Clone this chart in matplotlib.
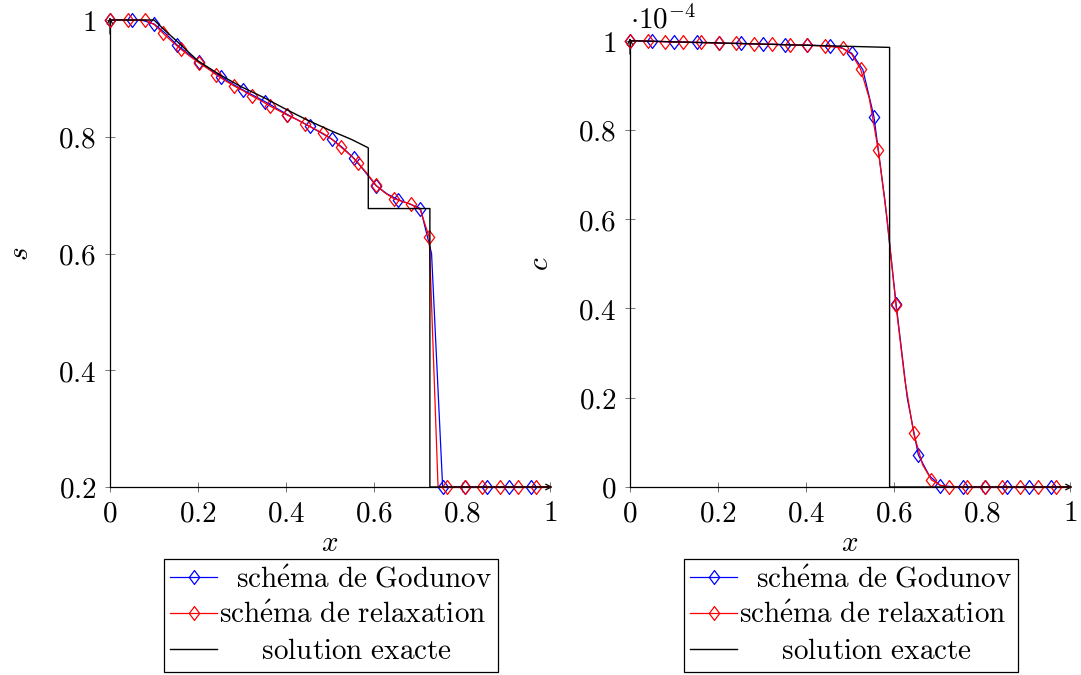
import numpy as np
import matplotlib
matplotlib.use("Agg")
import matplotlib.pyplot as plt
from matplotlib.path import Path
from matplotlib.ticker import FuncFormatter, FixedLocator

plt.rcParams['mathtext.fontset'] = 'cm'
plt.rcParams['font.family'] = ['DejaVu Serif']

# ---------------- data ----------------
# Godunov scheme: line points every half marker spacing (markers every 2nd point)
god_step = 0.0252
god_x = np.append(np.arange(40) * god_step, 1.0)
god_s = [1.000, 1.000, 1.000, 0.999, 0.993, 0.977, 0.958, 0.943, 0.928, 0.915,
         0.903, 0.891, 0.880, 0.870, 0.860, 0.849, 0.838, 0.828, 0.818, 0.807,
         0.796, 0.781, 0.763, 0.740, 0.716, 0.702, 0.692, 0.685, 0.677, 0.600,
         0.200, 0.200, 0.200, 0.200, 0.200, 0.200, 0.200, 0.200, 0.200, 0.200,
         0.200]
god_c = [1.000, 0.999, 0.999, 0.998, 0.997, 0.997, 0.996, 0.996, 0.995, 0.994,
         0.994, 0.993, 0.992, 0.992, 0.991, 0.990, 0.990, 0.989, 0.988, 0.985,
         0.972, 0.935, 0.830, 0.640, 0.410, 0.200, 0.072, 0.025, 0.003, 0.001,
         0.000, 0.000, 0.000, 0.000, 0.000, 0.000, 0.000, 0.000, 0.000, 0.000,
         0.000]
god_marks = list(range(0, 40, 2))

# relaxation scheme
rel_step = 0.02015
rel_x = np.append(np.arange(50) * rel_step, 1.0)
rel_s = [1.000, 1.000, 1.000, 1.000, 1.000, 0.992, 0.977, 0.963, 0.950, 0.938,
         0.927, 0.917, 0.906, 0.896, 0.887, 0.879, 0.870, 0.862, 0.853, 0.845,
         0.837, 0.830, 0.822, 0.814, 0.806, 0.796, 0.783, 0.770, 0.755, 0.737,
         0.717, 0.704, 0.694, 0.689, 0.684, 0.675, 0.628, 0.200, 0.200, 0.200,
         0.200, 0.200, 0.200, 0.200, 0.200, 0.200, 0.200, 0.200, 0.200, 0.200,
         0.200]
rel_c = [1.000, 1.000, 0.999, 0.998, 0.998, 0.997, 0.997, 0.996, 0.996, 0.995,
         0.995, 0.994, 0.994, 0.993, 0.993, 0.992, 0.992, 0.991, 0.991, 0.990,
         0.990, 0.989, 0.988, 0.986, 0.983, 0.970, 0.937, 0.870, 0.755, 0.600,
         0.407, 0.240, 0.120, 0.050, 0.016, 0.004, 0.000, 0.000, 0.000, 0.000,
         0.000, 0.000, 0.000, 0.000, 0.000, 0.000, 0.000, 0.000, 0.000, 0.000,
         0.000]
rel_marks = list(range(0, 50, 2))

# exact solution
ex_s_x = [0.0, 0.1, 0.125, 0.15, 0.2, 0.25, 0.3, 0.35, 0.4, 0.45, 0.5, 0.55,
          0.587, 0.587, 0.727, 0.727, 1.0]
ex_s = [1.0, 1.0, 0.982, 0.965, 0.930, 0.906, 0.885, 0.867, 0.847, 0.828, 0.811,
        0.795, 0.781, 0.677, 0.677, 0.2, 0.2]
ex_c_x = [0.0, 0.59, 0.59, 1.0]
ex_c = [1.0, 0.985, 0.0, 0.0]

labels = [r"$\mathrm{\ \ sch\acute{e}ma\ de\ Godunov}$",
          r"$\mathrm{sch\acute{e}ma\ de\ relaxation}$",
          r"$\mathrm{\ \ \ \ \ solution\ exacte}$"]

x_ticks = [0, 0.2, 0.4, 0.6, 0.8, 1]
s_ticks = [0.2, 0.4, 0.6, 0.8, 1]
c_ticks = [0, 0.2, 0.4, 0.6, 0.8, 1]

# ---------------- figure ----------------
W, H = 1081, 675
fig = plt.figure(figsize=(W / 100, H / 100), dpi=100)

diamond = Path([(0, 1), (0.75, 0), (0, -1), (-0.75, 0), (0, 1)],
               [Path.MOVETO, Path.LINETO, Path.LINETO, Path.LINETO, Path.CLOSEPOLY])

FS = 21


def fmt(v, pos):
    return r"$%g$" % v


def make_axes(left_px, top_px, bottom_px):
    ax = fig.add_axes([left_px / W, 1 - bottom_px / H, 440 / W, (bottom_px - top_px) / H])
    return ax


def style(ax, xt, yt, ylim, ylabel):
    ax.set_xlim(0, 1)
    ax.set_ylim(*ylim)
    ax.xaxis.set_major_locator(FixedLocator(xt))
    ax.yaxis.set_major_locator(FixedLocator(yt))
    ax.xaxis.set_major_formatter(FuncFormatter(fmt))
    ax.yaxis.set_major_formatter(FuncFormatter(fmt))
    for sp in ['top', 'right']:
        ax.spines[sp].set_visible(False)
    for sp in ['left', 'bottom']:
        ax.spines[sp].set_linewidth(0.9)
    ax.tick_params(direction='inout', length=7.5, width=0.5, color='#444444',
                   labelsize=FS, pad=5)
    ax.tick_params(axis='y', pad=6)
    ax.set_xlabel(r"$x$", fontsize=FS)
    ax.set_ylabel(ylabel, fontsize=FS, rotation=90)
    ax.yaxis.set_label_coords(-0.2045, 0.5)
    h = ax.get_position().height * H
    ax.xaxis.set_label_coords(0.5, -(543 - 487) / h)
    ax.xaxis.label.set_verticalalignment('center')
    ax.yaxis.label.set_verticalalignment('center')
    ax.annotate('', xy=(1.006, 0), xytext=(0.97, 0), xycoords='axes fraction',
                arrowprops=dict(arrowstyle='->', lw=0.9, color='black',
                                shrinkA=0, shrinkB=0))
    ax.annotate('', xy=(0, 1.006), xytext=(0, 0.97), xycoords='axes fraction',
                arrowprops=dict(arrowstyle='->', lw=0.9, color='black',
                                shrinkA=0, shrinkB=0))


def draw(ax, gy, ry, exx, exy):
    ax.plot(god_x, gy, color='blue', lw=0.9, marker=diamond, markersize=10,
            markerfacecolor='none', markeredgecolor='blue', markeredgewidth=0.9,
            markevery=god_marks, label=labels[0], clip_on=False, zorder=3)
    ax.plot(rel_x, ry, color='red', lw=0.9, marker=diamond, markersize=10,
            markerfacecolor='none', markeredgecolor='red', markeredgewidth=0.9,
            markevery=rel_marks, label=labels[1], clip_on=False, zorder=4)
    ax.plot(exx, exy, color='black', lw=1.0, label=labels[2], clip_on=False,
            zorder=5)


def legend(ax, cx_px):
    leg = ax.legend(loc='upper center', bbox_to_anchor=(cx_px / W, 1 - 559 / H),
                    bbox_transform=fig.transFigure, fontsize=FS, frameon=True,
                    fancybox=False, edgecolor='black', framealpha=1,
                    numpoints=1, handlelength=1.6, handletextpad=0.05,
                    labelspacing=0.27, borderpad=0.22, borderaxespad=0)
    leg.get_frame().set_linewidth(0.9)
    return leg


ax1 = make_axes(110, 20, 487)
draw(ax1, god_s, rel_s, ex_s_x, ex_s)
style(ax1, x_ticks, s_ticks, (0.2, 1), r"$s$")
legend(ax1, 331)

ax2 = make_axes(630, 40.7, 487)
draw(ax2, god_c, rel_c, ex_c_x, ex_c)
style(ax2, x_ticks, c_ticks, (0, 1), r"$c$")
ax2.text(0.0, 1.015, r"$\cdot 10^{-4}$", transform=ax2.transAxes, ha='left',
         va='bottom', fontsize=FS)
legend(ax2, 851)

fig.savefig("out.png", dpi=100)
